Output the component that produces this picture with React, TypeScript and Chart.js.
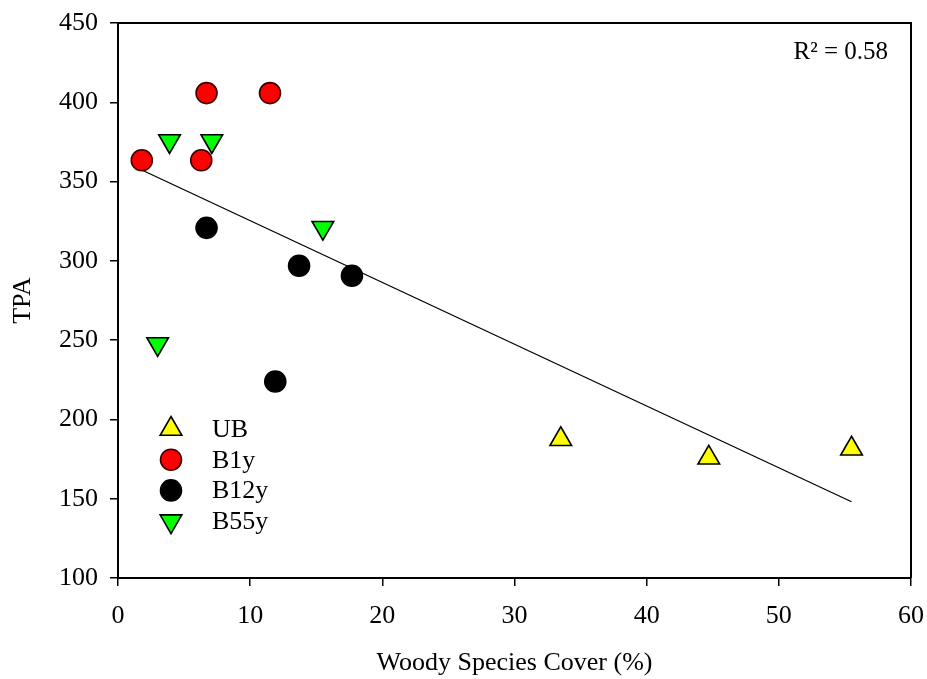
import React, { useEffect, useRef } from 'react';
import { Chart, registerables } from 'chart.js';
import { drawPoint } from 'chart.js/helpers';

Chart.register(...registerables);

// ---- data ----
const UB_X = [33.5, 44.7, 55.5];
const UB_Y = [187.5, 175.8, 181.5];
const B1Y_X = [1.8, 6.7, 11.5, 6.3];
const B1Y_Y = [363.4, 405.8, 405.8, 363.4];
const B12Y_X = [6.7, 13.7, 17.7, 11.9];
const B12Y_Y = [320.8, 296.9, 290.6, 223.9];
const B55Y_X = [3.9, 7.1, 15.5, 3.0];
const B55Y_Y = [375.6, 375.6, 320.9, 247.6];
const FIT_X = [1.8, 55.5];
const FIT_Y = [357.3, 148.1];

const SERIES_LABELS = ['UB', 'B1y', 'B12y', 'B55y'];
const X_MIN = 0, X_MAX = 60, X_STEP = 10;
const Y_MIN = 100, Y_MAX = 450, Y_STEP = 50;
const X_TITLE = 'Woody Species Cover (%)';
const Y_TITLE = 'TPA';
const R2_TEXT = 'R\u00B2 = 0.58';

const FONT = 'Liberation Serif, Times New Roman, serif';

const zip = (xs: number[], ys: number[]) => xs.map((x, i) => ({ x, y: ys[i] }));

const framePlugin = {
  id: 'frameAndExtras',
  afterDatasetsDraw(chart: any) {
    const { ctx, chartArea } = chart;
    ctx.save();
    // top & right frame lines
    ctx.strokeStyle = '#000';
    ctx.lineWidth = 2;
    ctx.beginPath();
    ctx.moveTo(chartArea.left, chartArea.top);
    ctx.lineTo(chartArea.right, chartArea.top);
    ctx.lineTo(chartArea.right, chartArea.bottom);
    ctx.stroke();

    // R² annotation
    ctx.fillStyle = '#000';
    ctx.font = `25px ${FONT}`;
    ctx.textAlign = 'right';
    ctx.textBaseline = 'middle';
    ctx.fillText(R2_TEXT, chartArea.right - 23, chartArea.top + 29);

    // legend inside plot
    const items = chart.data.datasets.filter((d: any) => d.showLegend);
    const mx = chartArea.left + 53;
    const tx = chartArea.left + 94;
    let y = chartArea.top + 406;
    const rowH = 30.7;
    items.forEach((d: any) => {
      ctx.fillStyle = d.backgroundColor;
      ctx.strokeStyle = d.borderColor;
      ctx.lineWidth = d.borderWidth;
      drawPoint(ctx, { pointStyle: d.pointStyle, rotation: d.rotation || 0, radius: d.pointRadius, borderWidth: d.borderWidth }, mx, y);
      ctx.fillStyle = '#000';
      ctx.font = `26px ${FONT}`;
      ctx.textAlign = 'left';
      ctx.textBaseline = 'middle';
      ctx.fillText(d.label, tx, y + 1);
      y += rowH;
    });
    ctx.restore();
  },
};

export default function App() {
  const ref = useRef<HTMLCanvasElement | null>(null);

  useEffect(() => {
    if (!ref.current) return;
    const common = { showLine: false, borderWidth: 1.6, borderColor: '#000', showLegend: true };
    const chart = new Chart(ref.current, {
      type: 'scatter',
      data: {
        datasets: [
          {
            ...common,
            label: SERIES_LABELS[0],
            data: zip(UB_X, UB_Y),
            backgroundColor: '#FFFF00',
            pointStyle: 'triangle',
            pointRadius: 12.5,
            rotation: 0,
          } as any,
          {
            ...common,
            label: SERIES_LABELS[1],
            data: zip(B1Y_X, B1Y_Y),
            backgroundColor: '#FF0000',
            borderColor: '#3a0000',
            pointStyle: 'circle',
            pointRadius: 10.5,
          } as any,
          {
            ...common,
            label: SERIES_LABELS[2],
            data: zip(B12Y_X, B12Y_Y),
            backgroundColor: '#000000',
            pointStyle: 'circle',
            pointRadius: 10.5,
          } as any,
          {
            ...common,
            label: SERIES_LABELS[3],
            data: zip(B55Y_X, B55Y_Y),
            backgroundColor: '#00FF00',
            pointStyle: 'triangle',
            pointRadius: 12.5,
            rotation: 180,
          } as any,
          {
            label: 'fit',
            type: 'line',
            data: zip(FIT_X, FIT_Y),
            showLine: true,
            borderColor: '#000',
            borderWidth: 1.3,
            pointRadius: 0,
            fill: false,
            showLegend: false,
            order: 10,
          } as any,
        ],
      },
      options: {
        animation: false,
        responsive: false,
        maintainAspectRatio: false,
        layout: { padding: { left: 0, top: 23, right: 16, bottom: 0 } },
        plugins: {
          legend: { display: false },
          tooltip: { enabled: false },
        },
        scales: {
          x: {
            type: 'linear',
            min: X_MIN,
            max: X_MAX,
            afterFit: (s: any) => { s.height = 101; s.paddingLeft = 0; s.paddingRight = 0; },
            ticks: {
              stepSize: X_STEP,
              color: '#000',
              font: { family: FONT, size: 26 },
              padding: 15,
              maxRotation: 0,
            },
            grid: {
              drawOnChartArea: false,
              drawTicks: true,
              tickLength: 8,
              color: '#000',
              lineWidth: 1.5,
            },
            border: { display: true, color: '#000', width: 2 },
            title: {
              display: true,
              text: X_TITLE,
              color: '#000',
              font: { family: FONT, size: 26 },
              padding: { top: 0, bottom: 0 },
            },
          },
          y: {
            type: 'linear',
            min: Y_MIN,
            max: Y_MAX,
            afterFit: (s: any) => { s.width = 118; s.paddingTop = 0; s.paddingBottom = 0; },
            ticks: {
              stepSize: Y_STEP,
              color: '#000',
              font: { family: FONT, size: 26 },
              padding: 12,
            },
            grid: {
              drawOnChartArea: false,
              drawTicks: true,
              tickLength: 8,
              color: '#000',
              lineWidth: 1.5,
            },
            border: { display: true, color: '#000', width: 2 },
            title: {
              display: true,
              text: Y_TITLE,
              color: '#000',
              font: { family: FONT, size: 26 },
              padding: { top: 8, bottom: 0 },
            },
          },
        },
      },
      plugins: [framePlugin],
    } as any);
    return () => chart.destroy();
  }, []);

  return (
    <div style={{ position: 'absolute', left: 0, top: 0, width: 927, height: 679, background: '#fff' }}>
      <canvas ref={ref} width={927} height={679} style={{ width: 927, height: 679, display: 'block' }} />
    </div>
  );
}
